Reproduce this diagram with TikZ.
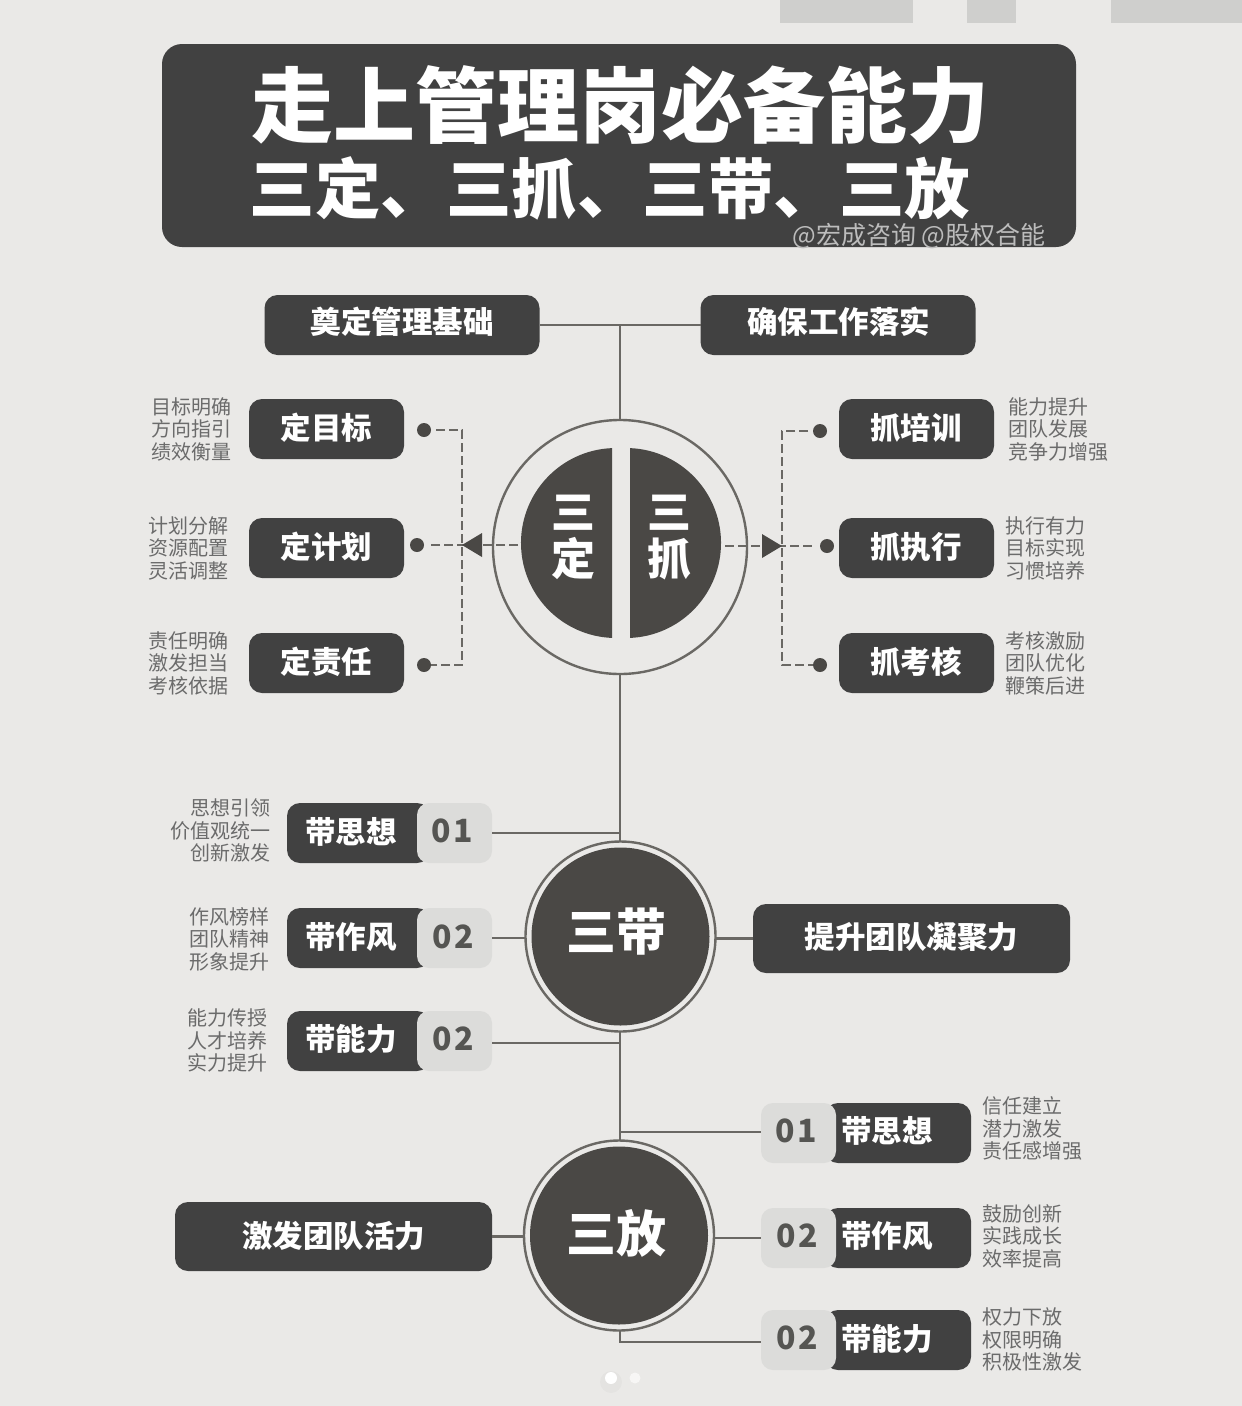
\documentclass[tikz,border=0pt]{standalone}
\usepackage{fontspec}
\setmainfont{Noto Sans CJK SC}
\definecolor{bgc}{HTML}{EAE9E7}
\definecolor{darkc}{HTML}{414141}
\definecolor{circc}{HTML}{4A4845}
\definecolor{linec}{HTML}{6A6864}
\definecolor{lightc}{HTML}{DCDCDA}
\definecolor{topc}{HTML}{CFCFCD}
\definecolor{subc}{HTML}{6B6B6B}
\definecolor{numc}{HTML}{555552}
\tikzset{
  every node/.style={inner sep=0pt,outer sep=0pt},
  darkbox/.style={fill=darkc,rounded corners=13pt},
  lightbox/.style={fill=lightc,rounded corners=12pt,minimum width=75pt,minimum height=60pt},
  numtext/.style={text=numc,font=\fontsize{32}{34}\selectfont\bfseries},
  pilltext/.style={text=white,font=\fontsize{30.5}{32}\selectfont\bfseries},
  subl/.style={text=subc,align=left,font=\fontsize{20}{22.5}\selectfont},
  subr/.style={text=subc,align=right,font=\fontsize{20}{22.5}\selectfont},
  link/.style={draw=linec,line width=2.4pt},
  dashlink/.style={draw=linec,line width=2.3pt,dash pattern=on 9pt off 4pt},
  dotn/.style={circle,fill=circc,minimum size=14pt},
  ring/.style={circle,draw=linec,line width=2.4pt,fill=bgc},
  disc/.style={circle,fill=circc},
  halftext/.style={text=white,font=\fontsize{44}{46}\selectfont\bfseries},
}
\begin{document}
\begin{tikzpicture}[x=1pt,y=-1pt]
\path[fill=bgc,use as bounding box] (0,0) rectangle (1242,1406);
% top strips
\fill[topc] (780,0) rectangle (913,23);
\fill[topc] (967,0) rectangle (1016,23);
\fill[topc] (1111,0) rectangle (1242,23);
% title
\node[fill=darkc,rounded corners=20pt,minimum width=914pt,minimum height=203pt] (title) at (619,145.5) {};
\node[text=white,font=\fontsize{82}{84}\selectfont\bfseries] (t1) at (620,105) {走上管理岗必备能力};
\node[text=white,font=\fontsize{65.5}{68}\selectfont\bfseries] (t2) at (610,188) {三定、三抓、三带、三放};
\node[text=white!65!darkc,font=\fontsize{25}{27}\selectfont] (wm) at (919,236) {@宏成咨询 @股权合能};
% junctions
\coordinate (jt) at (620,325);
\coordinate (j1) at (620,833);
\coordinate (j3) at (620,1043);
\coordinate (j4) at (620,1132);
\coordinate (j6) at (620,1342);
% header boxes
\node[darkbox,minimum width=275pt,minimum height=60pt] (h1) at (402,325) {};
\node[darkbox,minimum width=275pt,minimum height=60pt] (h2) at (838,325) {};
\node[pilltext] (h1t) at (402,321.5) {奠定管理基础};
\node[pilltext] (h2t) at (838.5,321.5) {确保工作落实};
% main circles
\node[ring,minimum size=254pt] (main) at (620,547) {};
\node[ring,minimum size=190pt] (dai) at (620.5,936.5) {};
\node[ring,minimum size=190pt] (fang) at (619,1235.5) {};
\draw[link] (h1.east) -- (h2.west);
\draw[link] (jt) -- (main.north);
\draw[link] (main.south) -- (main.south |- dai.north);
\draw[link] (main.south |- dai.south) -- (j4);
\draw[link] (j4) -- (j4 |- fang.north);
% halves
\fill[circc] (612,448.1) arc[start angle=92.4,end angle=267.6,radius=95pt] -- cycle;
\fill[circc] (630,448.1) arc[start angle=87.6,end angle=-87.6,radius=95pt] -- cycle;
\node[halftext] (sa) at (573,513) {三};
\node[halftext] (sb) at (573,559) {定};
\node[halftext] (sc) at (669,513) {三};
\node[halftext] (sd) at (669,559) {抓};
\coordinate (lh) at (518,545);
\coordinate (rh) at (725,546);
% discs
\node[disc,minimum size=178pt] (daid) at (620.5,936.5) {};
\node[disc,minimum size=178pt] (fangd) at (619,1235.5) {};
\node[text=white,font=\fontsize{50}{52}\selectfont\bfseries] (dait) at (616,932) {三带};
\node[text=white,font=\fontsize{50}{52}\selectfont\bfseries] (fangt) at (616,1233) {三放};
% left 定
\node[darkbox,minimum width=155pt,minimum height=60pt] (a1) at (326.5,429) {};
\node[darkbox,minimum width=155pt,minimum height=60pt] (a2) at (326.5,548) {};
\node[darkbox,minimum width=155pt,minimum height=60pt] (a3) at (326.5,663) {};
\node[pilltext] (a1t) at (326.5,428) {定目标};
\node[pilltext] (a2t) at (326.5,547) {定计划};
\node[pilltext] (a3t) at (326.5,661.5) {定责任};
\node[subr] (a1s) [anchor=east] at (231,429) {目标明确\\方向指引\\绩效衡量};
\node[subr] (a2s) [anchor=east] at (228,548) {计划分解\\资源配置\\灵活调整};
\node[subr] (a3s) [anchor=east] at (228,663) {责任明确\\激发担当\\考核依据};
\node[dotn] (d1) at (424,430) {};
\node[dotn] (d2) at (417,545) {};
\node[dotn] (d3) at (424,665) {};
\coordinate (cl1) at (462,430);
\coordinate (cl3) at (462,665);
\coordinate (cl2) at (462,545);
\draw[dashlink,shorten <=5pt] (d1.east) -- (cl1) -- (cl3) -- (d3.east);
\draw[dashlink,shorten >=6pt] (lh) -- (d2.east);
\fill[circc] (cl2) -- (482,533) -- (482,557) -- cycle;
% right 抓
\node[darkbox,minimum width=155pt,minimum height=60pt] (b1) at (916.5,429) {};
\node[darkbox,minimum width=155pt,minimum height=60pt] (b2) at (916.5,548) {};
\node[darkbox,minimum width=155pt,minimum height=60pt] (b3) at (916.5,663) {};
\node[pilltext] (b1t) at (916,428) {抓培训};
\node[pilltext] (b2t) at (916,547) {抓执行};
\node[pilltext] (b3t) at (916,661.5) {抓考核};
\node[subl] (b1s) [anchor=west] at (1008,429) {能力提升\\团队发展\\竞争力增强};
\node[subl] (b2s) [anchor=west] at (1005,548) {执行有力\\目标实现\\习惯培养};
\node[subl] (b3s) [anchor=west] at (1005,663) {考核激励\\团队优化\\鞭策后进};
\node[dotn] (e1) at (820,431) {};
\node[dotn] (e2) at (827,546) {};
\node[dotn] (e3) at (820,665) {};
\coordinate (cr1) at (782,431);
\coordinate (cr3) at (782,665);
\coordinate (cr2) at (782,546);
\draw[dashlink,shorten <=5pt] (e1.west) -- (cr1) -- (cr3) -- (e3.west);
\draw[dashlink,shorten >=6pt] (rh) -- (e2.west);
\fill[circc] (cr2) -- (762,534) -- (762,558) -- cycle;
% 三带 pills
\node[darkbox,minimum width=143pt,minimum height=60pt] (p1) at (358.5,833) {};
\node[darkbox,minimum width=143pt,minimum height=60pt] (p2) at (358.5,938) {};
\node[darkbox,minimum width=143pt,minimum height=60pt] (p3) at (358.5,1041) {};
\node[lightbox] (n1) at (454.5,833) {};
\node[lightbox] (n2) at (454.5,938) {};
\node[lightbox] (n3) at (454.5,1041) {};
\node[numtext] (n1t) at (452.5,831) {0\hspace{3pt}1};
\node[numtext] (n2t) at (453.5,936.5) {0\hspace{3pt}2};
\node[numtext] (n3t) at (453.5,1038.5) {0\hspace{3pt}2};
\node[pilltext] (p1t) at (351,831.5) {带思想};
\node[pilltext] (p2t) at (351,937) {带作风};
\node[pilltext] (p3t) at (351,1039) {带能力};
\node[subr] (p1s) [anchor=east] at (270,830.5) {思想引领\\价值观统一\\创新激发};
\node[subr] (p2s) [anchor=east] at (269,939) {作风榜样\\团队精神\\形象提升};
\node[subr] (p3s) [anchor=east] at (267,1040.5) {能力传授\\人才培养\\实力提升};
\draw[link] (n1.east) -- (j1);
\draw[link] (n2.east) -- (dai.west |- n2.east);
\draw[link] (n3.east |- j3) -- (j3);
% right box of 三带
\node[darkbox,minimum width=317pt,minimum height=69pt] (k1) at (911.5,938.5) {};
\node[pilltext] (k1t) at (911.5,937) {提升团队凝聚力};
\draw[link] (dai.east |- k1.west) -- (k1.west);
% 三放 left box
\node[darkbox,minimum width=317pt,minimum height=69pt] (k2) at (333.5,1236.5) {};
\node[pilltext] (k2t) at (333.5,1235.5) {激发团队活力};
\draw[link] (k2.east) -- (fang.west |- k2.east);
% 三放 pills
\node[darkbox,minimum width=146pt,minimum height=60pt] (q1) at (898,1133) {};
\node[darkbox,minimum width=146pt,minimum height=60pt] (q2) at (898,1238) {};
\node[darkbox,minimum width=146pt,minimum height=60pt] (q3) at (898,1340) {};
\node[lightbox] (m1) at (798.5,1133) {};
\node[lightbox] (m2) at (798.5,1238) {};
\node[lightbox] (m3) at (798.5,1340) {};
\node[numtext] (m1t) at (796,1131) {0\hspace{3pt}1};
\node[numtext] (m2t) at (797,1236) {0\hspace{3pt}2};
\node[numtext] (m3t) at (797,1338) {0\hspace{3pt}2};
\node[pilltext] (q1t) at (887,1131) {带思想};
\node[pilltext] (q2t) at (887,1236.5) {带作风};
\node[pilltext] (q3t) at (887,1338.5) {带能力};
\node[subl] (q1s) [anchor=west] at (982,1128.5) {信任建立\\潜力激发\\责任感增强};
\node[subl] (q2s) [anchor=west] at (982,1236) {鼓励创新\\实践成长\\效率提高};
\node[subl] (q3s) [anchor=west] at (982,1339.5) {权力下放\\权限明确\\积极性激发};
\draw[link] (j4) -- (m1.west |- j4);
\draw[link] (fang.east |- m2.west) -- (m2.west);
\draw[link] (j4 |- fang.south) -- (j6) -- (m3.west |- j6);
% pager dots
\fill[black,opacity=.025] (611,1382) circle (11pt);
\node[circle,fill=white,minimum size=12pt] (pg1) at (611,1378) {};
\node[circle,fill=white!60!bgc,minimum size=11pt] (pg2) at (635,1378) {};
\end{tikzpicture}
\end{document}
